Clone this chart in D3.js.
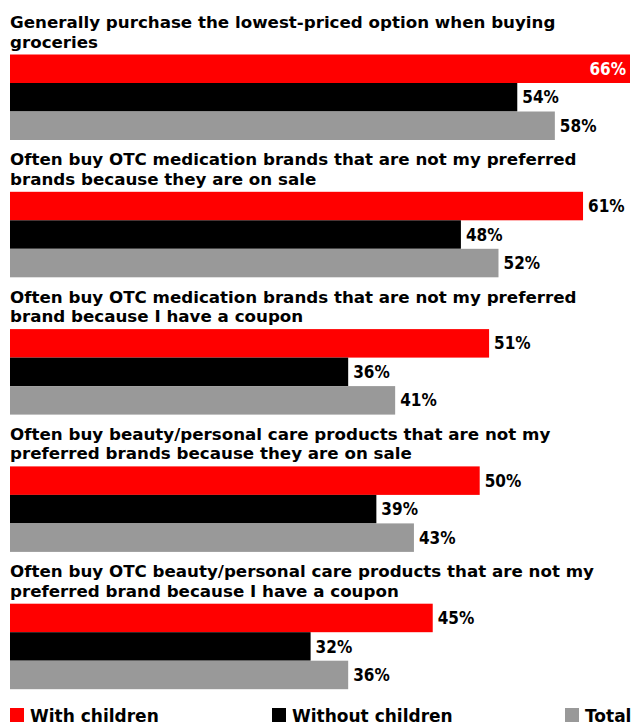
<!DOCTYPE html>
<html>
<head>
<meta charset="utf-8">
<script src="https://cdn.jsdelivr.net/npm/d3@7"></script>
<style>
  html, body { margin: 0; padding: 0; background: #fff; }
  svg { display: block; }
  .title { font-family: "DejaVu Sans", Verdana, sans-serif; font-weight: bold; font-size: 16.7px; fill: #000; }
  .value { font-family: "Liberation Sans Narrow", "DejaVu Sans Condensed", sans-serif; font-weight: bold; font-size: 17px; }
  .legend-text { font-family: "DejaVu Sans", Verdana, sans-serif; font-weight: bold; font-size: 17px; fill: #000; }
</style>
</head>
<body>
<svg id="chart"></svg>
<script>
// Shopping behaviour by parental status

const categories = [
  ['Generally purchase the lowest-priced option when buying', 'groceries'],
  ['Often buy OTC medication brands that are not my preferred', 'brands because they are on sale'],
  ['Often buy OTC medication brands that are not my preferred', 'brand because I have a coupon'],
  ['Often buy beauty/personal care products that are not my', 'preferred brands because they are on sale'],
  ['Often buy OTC beauty/personal care products that are not my', 'preferred brand because I have a coupon']
];
const seriesNames = ['With children', 'Without children', 'Total'];
const withChildren = [66, 61, 51, 50, 45];
const withoutChildren = [54, 48, 36, 39, 32];
const total = [58, 52, 41, 43, 36];
const colors = ['#ff0000', '#000000', '#999999'];

const width = 633, height = 725;

const svg = d3.select('#chart')
  .attr('width', width)
  .attr('height', height);

const seriesValues = [withChildren, withoutChildren, total];
const data = categories.map((c, i) => ({
  lines: c,
  values: seriesValues.map((s, j) => ({ series: seriesNames[j], value: s[i], color: colors[j] }))
}));

// group blocks (title + bars)
const groupScale = d3.scaleBand()
  .domain(d3.range(categories.length))
  .range([16, 702.5])
  .paddingInner(0);

const titleHeight = 38.5;
const barBlock = 85.5;

const barScale = d3.scaleBand()
  .domain(seriesNames)
  .range([0, barBlock])
  .padding(0);

const xScale = d3.scaleLinear()
  .domain([0, d3.max(withChildren)])
  .range([10, 630]);

const groups = svg.selectAll('.group')
  .data(data)
  .enter()
  .append('g')
  .attr('class', 'group')
  .attr('transform', (d, i) => `translate(0,${groupScale(i)})`);

// titles
groups.append('text')
  .attr('class', 'title')
  .selectAll('tspan')
  .data(d => d.lines)
  .enter()
  .append('tspan')
  .attr('x', 10)
  .attr('y', (d, i) => 12 + i * 19.5)
  .text(d => d);

const bars = groups.append('g')
  .attr('transform', `translate(0,${titleHeight})`)
  .selectAll('.bar')
  .data(d => d.values)
  .enter()
  .append('g')
  .attr('class', 'bar');

bars.append('rect')
  .attr('x', xScale(0))
  .attr('y', d => barScale(d.series))
  .attr('width', d => xScale(d.value) - xScale(0))
  .attr('height', barScale.bandwidth())
  .attr('fill', d => d.color);

// value labels, inside the bar when there is no room to the right
bars.append('text')
  .attr('class', 'value')
  .attr('x', d => xScale(d.value) + 40 > width ? xScale(d.value) - 4 : xScale(d.value) + 5)
  .attr('y', d => barScale(d.series) + barScale.bandwidth() / 2)
  .attr('dy', '0.36em')
  .attr('text-anchor', d => xScale(d.value) + 40 > width ? 'end' : 'start')
  .attr('fill', d => xScale(d.value) + 40 > width ? '#fff' : '#000')
  .text(d => `${d.value}%`);

// legend
const legendX = [10, 272, 565];
const legend = svg.selectAll('.legend')
  .data(seriesNames)
  .enter()
  .append('g')
  .attr('class', 'legend')
  .attr('transform', (d, i) => `translate(${legendX[i]},708)`);

legend.append('rect')
  .attr('width', 14)
  .attr('height', 14)
  .attr('fill', (d, i) => colors[i]);

legend.append('text')
  .attr('class', 'legend-text')
  .attr('x', 20)
  .attr('y', 13.5)
  .text(d => d);
</script>
</body>
</html>
